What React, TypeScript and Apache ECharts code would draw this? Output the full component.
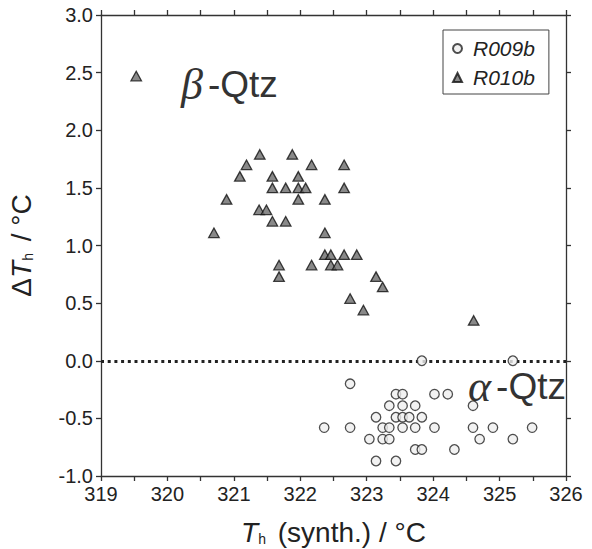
import React, { useEffect, useRef } from 'react';
import * as echarts from 'echarts';

const xMin = 319;
const xMax = 326;
const yMin = -1.0;
const yMax = 3.0;
const tickStep = 0.5;

const seriesNames = ['R009b', 'R010b'];

// R009b (alpha-quartz side): [T_h synth, delta T_h]
const r009b: [number, number][] = [
  [323.83, 0.0], [325.2, 0.0],
  [322.75, -0.2],
  [323.44, -0.29], [323.54, -0.29], [324.02, -0.29], [324.22, -0.29],
  [323.34, -0.39], [323.54, -0.39], [323.73, -0.39], [324.6, -0.39],
  [323.14, -0.49], [323.44, -0.49], [323.54, -0.49], [323.64, -0.49], [323.83, -0.49],
  [322.36, -0.58], [322.75, -0.58], [323.24, -0.58], [323.34, -0.58], [323.54, -0.58],
  [323.73, -0.58], [324.02, -0.58], [324.6, -0.58], [324.9, -0.58], [325.49, -0.58],
  [323.04, -0.68], [323.24, -0.68], [323.34, -0.68], [324.7, -0.68], [325.2, -0.68],
  [323.73, -0.77], [323.83, -0.77], [324.32, -0.77],
  [323.14, -0.87], [323.44, -0.87],
];

// R010b (beta-quartz side)
const r010b: [number, number][] = [
  [319.53, 2.47],
  [320.7, 1.11], [320.89, 1.4], [321.09, 1.6], [321.19, 1.7], [321.39, 1.79],
  [321.38, 1.31], [321.49, 1.31], [321.58, 1.6], [321.58, 1.5], [321.58, 1.21],
  [321.68, 0.83], [321.68, 0.73], [321.78, 1.5], [321.78, 1.21], [321.88, 1.79],
  [321.97, 1.6], [321.97, 1.5], [321.97, 1.4], [322.08, 1.5], [322.17, 1.7],
  [322.17, 0.83], [322.37, 1.4], [322.37, 1.11], [322.37, 0.92], [322.46, 0.92],
  [322.46, 0.83], [322.56, 0.83], [322.66, 1.7], [322.66, 1.5], [322.66, 0.92],
  [322.85, 0.92], [323.14, 0.73], [323.24, 0.64], [322.75, 0.54], [322.95, 0.44],
  [324.61, 0.35],
];

const FONT = 'Liberation Sans, Arial, sans-serif';

const titleRich = {
  d: { fontFamily: FONT, fontSize: 28, color: '#222', lineHeight: 28, verticalAlign: 'top' },
  i: { fontFamily: FONT, fontStyle: 'italic', fontSize: 28, color: '#222', lineHeight: 28, verticalAlign: 'top' },
  s: { fontFamily: FONT, fontSize: 14, color: '#222', lineHeight: 10, verticalAlign: 'bottom', padding: [0, 4, 0, 0] },
  n: { fontFamily: FONT, fontSize: 28, color: '#222', lineHeight: 28, verticalAlign: 'top' },
};

const phaseRich = {
  g: { fontFamily: 'Liberation Serif, serif', fontStyle: 'italic', fontSize: 44, fill: '#333', padding: [0, 5, 0, 0] },
  q: { fontFamily: FONT, fontSize: 37, fill: '#333' },
};

export default function App() {
  const ref = useRef<HTMLDivElement>(null);
  useEffect(() => {
    if (!ref.current) return;
    const chart = echarts.init(ref.current, undefined, { renderer: 'svg' });
    const axisLine = { show: true, onZero: false, lineStyle: { color: '#333', width: 1.3 } };
    const axisTick = { show: true, inside: false, length: 5, lineStyle: { color: '#333', width: 1.3 } };
    chart.setOption({
      animation: false,
      backgroundColor: '#fff',
      grid: { left: 101, right: 26, top: 15, bottom: 73, containLabel: false, outerBoundsMode: 'none' },
      legend: {
        data: seriesNames,
        orient: 'vertical',
        left: 443,
        top: 30,
        padding: [8, 14, 6, 9],
        borderColor: '#444',
        borderWidth: 1,
        itemWidth: 9,
        itemHeight: 9,
        itemGap: 8,
        textStyle: {
          fontFamily: FONT, fontStyle: 'italic', fontSize: 21, color: '#222', lineHeight: 21,
          padding: [0, 0, 0, 6],
        },
      },
      xAxis: [
        {
          type: 'value', position: 'bottom', min: xMin, max: xMax, interval: tickStep,
          axisLine, axisTick, splitLine: { show: false },
          axisLabel: {
            fontFamily: FONT, fontSize: 20, color: '#222', margin: 7.5,
            formatter: (v: number) => (Math.abs(v - Math.round(v)) < 1e-6 ? String(Math.round(v)) : ''),
          },
          name: '{i|T}{s|h}{n| (synth.) / °C}',
          nameLocation: 'middle',
          nameGap: 42,
          nameTextStyle: { fontFamily: FONT, color: '#222', rich: titleRich },
        },
        {
          type: 'value', position: 'top', min: xMin, max: xMax, interval: tickStep,
          axisLine, axisTick, splitLine: { show: false }, axisLabel: { show: false },
        },
      ],
      yAxis: [
        {
          type: 'value', position: 'left', min: yMin, max: yMax, interval: tickStep,
          axisLine, axisTick, splitLine: { show: false },
          axisLabel: {
            fontFamily: FONT, fontSize: 20, color: '#222', margin: 8,
            formatter: (v: number) => v.toFixed(1),
          },
          name: '{d|Δ}{i|T}{s|h}{n| / °C}',
          nameLocation: 'middle',
          nameGap: 66,
          nameRotate: 90,
          nameTextStyle: { fontFamily: FONT, color: '#222', rich: titleRich },
        },
        {
          type: 'value', position: 'right', min: yMin, max: yMax, interval: tickStep,
          axisLine, axisTick, splitLine: { show: false }, axisLabel: { show: false },
        },
      ],
      series: [
        {
          name: seriesNames[0],
          type: 'scatter',
          data: r009b,
          symbol: 'circle',
          symbolSize: 9.5,
          itemStyle: { color: '#efefef', borderColor: '#222', borderWidth: 1.3 },
          z: 3,
          markLine: {
            silent: true,
            symbol: 'none',
            label: { show: false },
            lineStyle: { type: [3, 3.7], width: 3, color: '#222' },
            data: [{ yAxis: 0 }],
            z: 2,
          },
        },
        {
          name: seriesNames[1],
          type: 'scatter',
          data: r010b,
          symbol: 'triangle',
          symbolSize: [10.5, 9.5],
          itemStyle: { color: '#6b6b6b', borderColor: '#111', borderWidth: 1.3 },
          z: 4,
        },
      ],
      graphic: [
        {
          type: 'text',
          x: 181,
          y: 84,
          style: { text: '{g|β}{q|-Qtz}', verticalAlign: 'middle', rich: phaseRich },
        },
        {
          type: 'text',
          x: 468,
          y: 386,
          style: { text: '{g|α}{q|-Qtz}', verticalAlign: 'middle', rich: phaseRich },
        },
      ],
    });
    return () => chart.dispose();
  }, []);
  return <div ref={ref} style={{ position: 'fixed', left: 0, top: 0, width: 592, height: 549 }} />;
}
